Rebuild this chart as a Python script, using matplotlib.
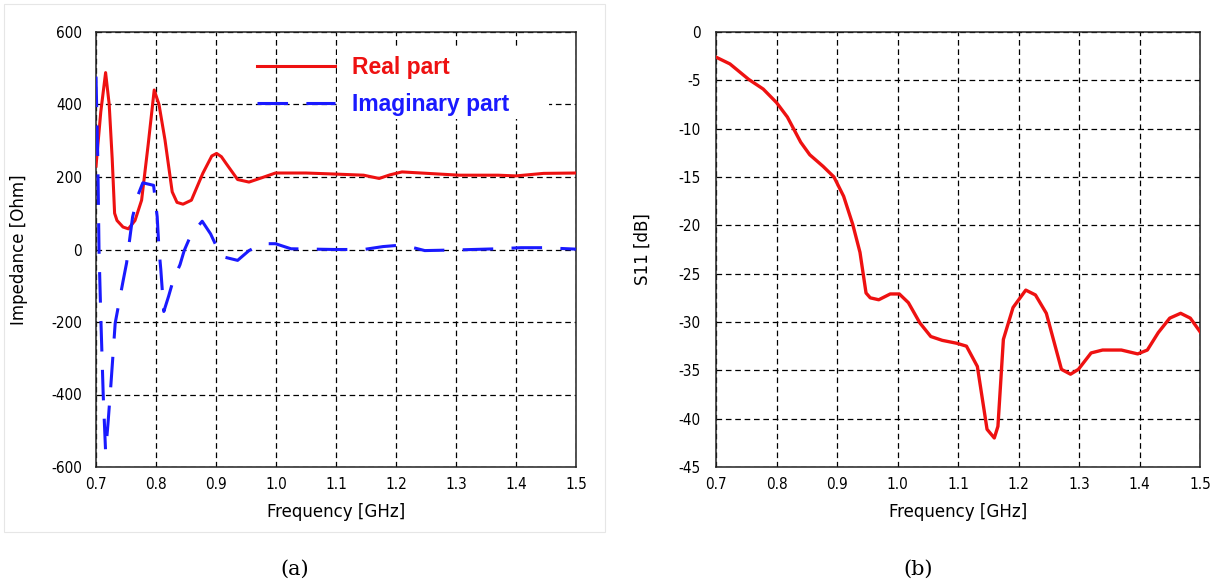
import numpy as np
import matplotlib
matplotlib.use('Agg')
import matplotlib.pyplot as plt
from matplotlib import font_manager
from matplotlib.patches import Rectangle

plt.rcParams['axes.unicode_minus'] = False

# input impedance, real and imaginary parts (Ohm)
freq_re = [0.700, 0.708, 0.716, 0.722, 0.727, 0.731, 0.735, 0.745, 0.754, 0.765,
           0.776, 0.787, 0.797, 0.805, 0.815, 0.827, 0.835, 0.845, 0.859, 0.878,
           0.893, 0.901, 0.909, 0.917, 0.936, 0.955, 0.980, 0.999, 1.050, 1.100,
           1.146, 1.172, 1.190, 1.210, 1.242, 1.305, 1.370, 1.400, 1.446, 1.500]
z_real = [230, 380, 488, 400, 250, 100, 80, 62, 57, 80,
          136, 290, 440, 400, 302, 159, 130, 125, 136, 210,
          258, 265, 256, 237, 193, 186, 200, 211, 211, 208,
          205, 196, 206, 214, 211, 205, 205, 203, 210, 211]

freq_im = [0.700, 0.703, 0.705, 0.708, 0.712, 0.716, 0.720, 0.725, 0.732, 0.745,
           0.751, 0.761, 0.770, 0.778, 0.796, 0.802, 0.805, 0.808, 0.813, 0.821,
           0.829, 0.840, 0.847, 0.859, 0.877, 0.891, 0.904, 0.909, 0.936, 0.955,
           0.977, 0.999, 1.025, 1.100, 1.146, 1.178, 1.200, 1.229, 1.248, 1.306,
           1.370, 1.408, 1.446, 1.500]
z_imag = [477, 250, 0, -185, -400, -558, -480, -369, -203, -88,
          -37, 90, 150, 184, 177, 90, 0, -55, -171, -129,
          -83, -42, -3, 43, 78, 43, -3, -19, -30, -3,
          16, 16, 2, 0, 0, 8, 11, 5, -3, -1,
          2, 5, 5, 1]

# return loss
freq_s11 = [0.700, 0.723, 0.754, 0.778, 0.800, 0.818, 0.840, 0.855, 0.877, 0.895,
            0.911, 0.926, 0.938, 0.948, 0.955, 0.969, 0.988, 1.003, 1.018, 1.037,
            1.055, 1.074, 1.098, 1.114, 1.132, 1.148, 1.160, 1.166, 1.175, 1.191,
            1.212, 1.228, 1.246, 1.271, 1.286, 1.299, 1.320, 1.339, 1.370, 1.397,
            1.413, 1.431, 1.450, 1.468, 1.484, 1.500]
s11_db = [-2.6, -3.3, -4.9, -5.9, -7.3, -8.8, -11.4, -12.7, -13.9, -15.0,
          -17.0, -19.9, -22.8, -27.0, -27.5, -27.7, -27.1, -27.1, -28.0, -30.1,
          -31.5, -31.9, -32.2, -32.5, -34.6, -41.1, -42.0, -40.8, -31.8, -28.5,
          -26.7, -27.2, -29.1, -34.9, -35.4, -34.9, -33.2, -32.9, -32.9, -33.3,
          -32.9, -31.1, -29.6, -29.1, -29.6, -31.0]

freq_ticks = [0.7, 0.8, 0.9, 1.0, 1.1, 1.2, 1.3, 1.4, 1.5]

# prefer a narrow sans face for the axis text if one is around
tick_font = 'DejaVu Sans'
for f in font_manager.fontManager.ttflist:
    path = f.fname.lower()
    if ('condensed' in path or 'narrow' in path) and 'mono' not in path \
            and 'serif' not in f.name.lower() and 'bold' not in path \
            and 'oblique' not in path and 'italic' not in path:
        tick_font = font_manager.FontProperties(fname=f.fname)
        break


def tick_fp(size):
    if isinstance(tick_font, str):
        return font_manager.FontProperties(family=tick_font, size=size)
    fp = tick_font.copy()
    fp.set_size(size)
    return fp


fig = plt.figure(figsize=(12.25, 5.83), dpi=100)

# light frame around panel (a)
fig.patches.append(Rectangle((4 / 1225, 1 - 532 / 583), 601 / 1225, 528 / 583,
                             transform=fig.transFigure, facecolor='none',
                             edgecolor='#e6e6e6', linewidth=0.8))


def style_axes(ax, ypad, xlabel, ylabel, ylabelpad):
    ax.set_axisbelow(True)
    ax.grid(True, color='black', linestyle=(0, (4.5, 3)), linewidth=0.9)
    ax.tick_params(length=0)
    ax.tick_params(axis='y', pad=ypad)
    ax.tick_params(axis='x', pad=7)
    for lab in ax.get_xticklabels() + ax.get_yticklabels():
        lab.set_fontproperties(tick_fp(11))
    for sp in ax.spines.values():
        sp.set_linewidth(1.1)
        sp.set_color('#222222')
    ax.set_xlabel(xlabel, fontproperties=tick_fp(13.3), labelpad=8)
    ax.set_ylabel(ylabel, fontproperties=tick_fp(13.3), labelpad=ylabelpad)


ax1 = fig.add_axes([96 / 1225, 1 - 467 / 583, 480 / 1225, 435 / 583])
ax1.set_xlim(0.7, 1.5)
ax1.set_ylim(-600, 600)
ax1.set_xticks(freq_ticks)
ax1.set_xticklabels([f'{v:.1f}' for v in freq_ticks])
ax1.set_yticks([-600, -400, -200, 0, 200, 400, 600])
ax1.plot(freq_re, z_real, color='#ee1111', linewidth=2.2, label='Real part', zorder=3)
ax1.plot(freq_im, z_imag, color='#1a1aff', linewidth=2.2, linestyle=(0, (10, 6)),
         label='Imaginary part', zorder=3)
# white patch behind the legend text
ax1.add_patch(Rectangle((0.503, 0.80), 0.44, 0.163, transform=ax1.transAxes,
                        facecolor='white', edgecolor='none', zorder=1))
ax1.legend(loc='upper left', bbox_to_anchor=(0.312, 0.971), frameon=False,
           handlelength=3.4, handletextpad=0.75, labelspacing=0.62,
           borderpad=0, labelcolor='linecolor',
           prop={'weight': 'bold', 'size': 16.5, 'family': 'Liberation Sans'})
style_axes(ax1, 10, 'Frequency [GHz]', 'Impedance [Ohm]', 16.5)

ax2 = fig.add_axes([716 / 1225, 1 - 467 / 583, 484 / 1225, 435 / 583])
ax2.set_xlim(0.7, 1.5)
ax2.set_ylim(-45, 0)
ax2.set_xticks(freq_ticks)
ax2.set_xticklabels([f'{v:.1f}' for v in freq_ticks])
ax2.set_yticks(np.arange(-45, 1, 5))
ax2.plot(freq_s11, s11_db, color='#ee1111', linewidth=2.4, zorder=3)
style_axes(ax2, 11, 'Frequency [GHz]', 'S11 [dB]', 19)

fig.text(295 / 1225, 1 - 569 / 583, '(a)', ha='center', va='center',
         fontsize=15, family='DejaVu Serif')
fig.text(918 / 1225, 1 - 569 / 583, '(b)', ha='center', va='center',
         fontsize=15, family='DejaVu Serif')

fig.savefig('out.png', dpi=100)
